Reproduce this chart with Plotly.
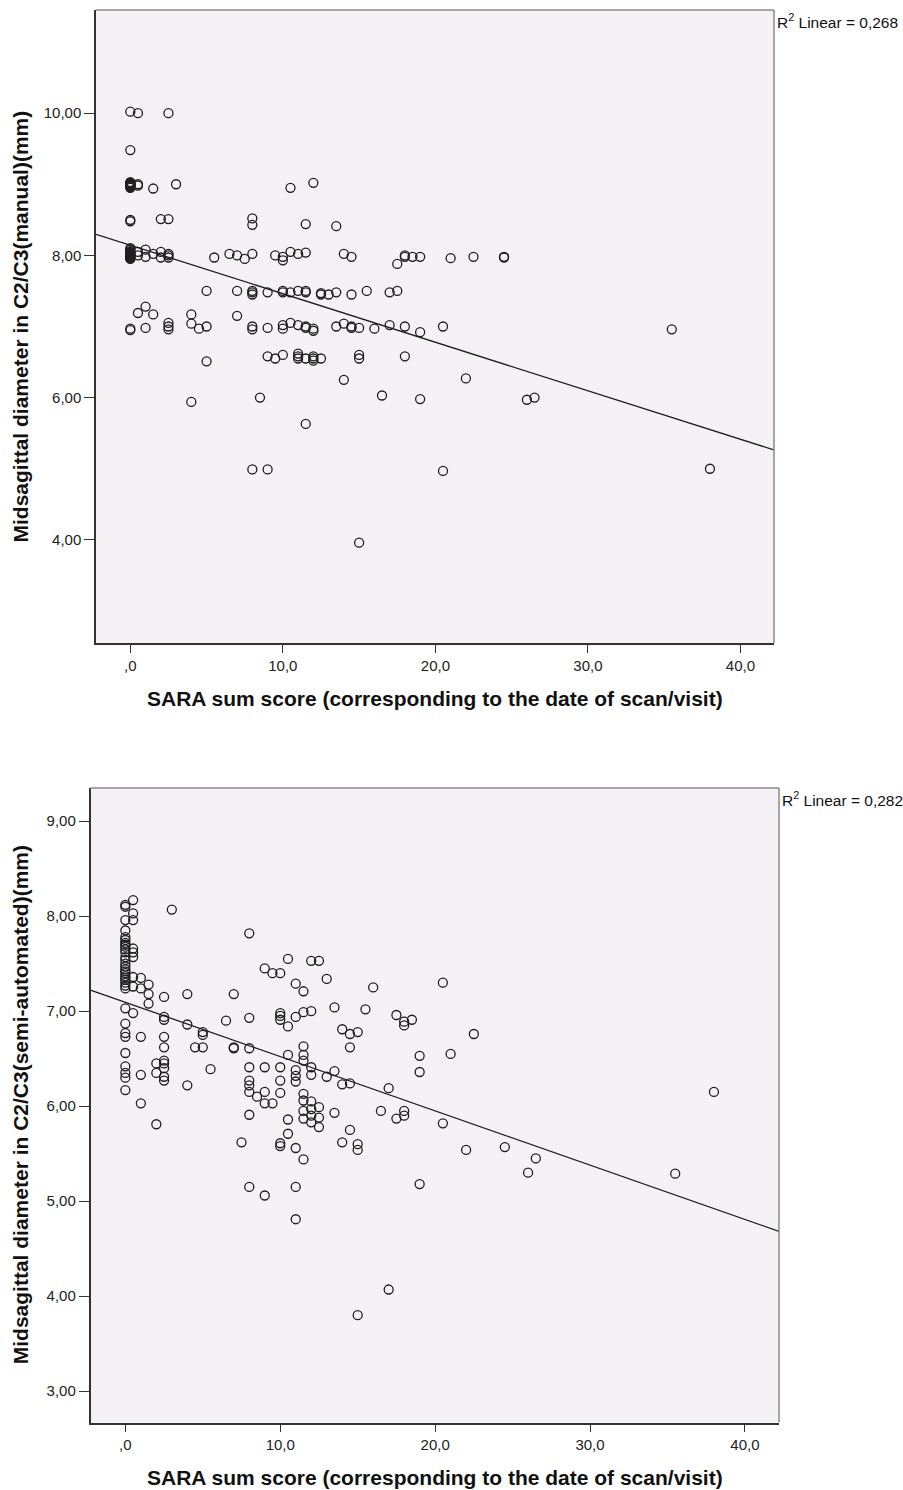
import numpy as np
import plotly.graph_objects as go

W, H = 903, 1490

# (SARA sum score, midsagittal diameter C2/C3, manual measurement in mm)
manual_points = [
    (0, 10.02), (0.5, 10.0), (2.5, 10.0),
    (0, 9.48),
    (0, 8.97), (0, 9.02), (0, 8.95), (0, 9.0), (0, 9.0), (0, 8.98), (0, 9.03), (0, 8.96), (0, 9.0),
    (0, 9.01), (0, 8.99), (0, 9.0), (0, 8.97),
    (0.5, 8.98), (0.5, 9.0), (1.5, 8.94), (3.0, 9.0), (10.5, 8.95), (12.0, 9.02),
    (0, 8.5), (0, 8.48), (2.0, 8.51), (2.5, 8.51), (8.0, 8.52), (8.0, 8.43), (11.5, 8.44), (13.5, 8.41),
    (0, 8.0), (0, 8.05), (0, 7.98), (0, 8.02), (0, 8.08), (0, 7.95), (0, 8.1), (0, 8.0), (0, 8.03),
    (0, 7.97), (0, 8.01), (0, 8.06), (0, 7.99), (0, 8.04), (0, 8.0), (0, 7.96),
    (0.5, 8.0), (0.5, 8.05),
    (1.0, 7.98), (1.0, 8.08), (1.5, 8.02), (2.0, 8.05), (2.0, 7.97), (2.5, 8.0), (2.5, 7.97), (2.5, 8.02),
    (5.5, 7.97), (6.5, 8.02), (7.0, 8.0), (7.5, 7.95), (8.0, 8.02), (9.5, 8.0), (10.0, 7.93), (10.0, 7.98),
    (10.5, 8.05), (11.0, 8.02), (11.5, 8.04), (14.0, 8.02), (14.5, 7.98), (17.5, 7.88), (18.0, 7.98),
    (18.0, 8.0), (18.5, 7.98), (19.0, 7.98), (21.0, 7.96), (22.5, 7.98), (24.5, 7.98), (24.5, 7.97),
    (5.0, 7.5), (7.0, 7.5), (8.0, 7.5), (8.0, 7.45), (8.0, 7.48), (9.0, 7.48), (10.0, 7.5), (10.0, 7.48),
    (10.5, 7.48), (11.0, 7.5), (11.5, 7.5), (11.5, 7.48), (12.5, 7.45), (12.5, 7.47), (13.0, 7.45),
    (13.5, 7.48), (14.5, 7.45), (15.5, 7.5), (17.0, 7.48), (17.5, 7.5),
    (7.0, 7.15), (0.5, 7.19), (1.0, 7.28), (1.5, 7.17), (4.0, 7.17), (4.0, 7.04),
    (0, 6.95), (0, 6.97), (1.0, 6.98), (2.5, 7.05), (2.5, 7.0), (2.5, 6.96), (4.5, 6.97), (5.0, 7.0),
    (8.0, 7.0), (8.0, 6.96), (9.0, 6.98), (10.0, 6.97), (10.0, 7.02), (10.5, 7.05), (11.0, 7.02),
    (11.5, 7.0), (11.5, 6.98), (12.0, 6.97), (12.0, 6.94), (13.5, 7.0), (14.0, 7.04), (14.5, 7.0),
    (14.5, 6.98), (15.0, 6.98), (16.0, 6.97), (17.0, 7.02), (18.0, 7.0), (19.0, 6.92), (20.5, 7.0),
    (5.0, 6.51), (9.0, 6.58), (9.5, 6.55), (10.0, 6.6), (11.0, 6.62), (11.0, 6.58), (11.0, 6.55),
    (11.5, 6.55), (12.0, 6.58), (12.0, 6.55), (12.0, 6.52), (12.5, 6.55), (15.0, 6.6), (15.0, 6.55),
    (18.0, 6.58),
    (14.0, 6.25), (22.0, 6.27), (16.5, 6.03), (19.0, 5.98), (26.0, 5.97), (26.5, 6.0), (11.5, 5.63),
    (4.0, 5.94), (8.5, 6.0), (8.0, 4.99), (9.0, 4.99), (20.5, 4.97), (15.0, 3.96), (35.5, 6.96),
    (38.0, 5.0),
]

# (SARA sum score, midsagittal diameter C2/C3, semi-automated measurement in mm)
semi_points = [
    (0, 8.12), (0, 8.10), (0, 7.96), (0, 7.85), (0, 7.75), (0, 7.72), (0, 7.68), (0, 7.65), (0, 7.54),
    (0, 7.5), (0, 7.47), (0, 7.44), (0, 7.40), (0, 7.37), (0, 7.35), (0, 7.30), (0, 7.27), (0, 7.24),
    (0, 7.78), (0, 7.62), (0, 7.57), (0, 7.42), (0, 7.33), (0, 7.70),
    (0, 7.03), (0, 6.87), (0, 6.77), (0, 6.73), (0, 6.56), (0, 6.42), (0, 6.35), (0, 6.30), (0, 6.17),
    (0.5, 8.17), (0.5, 8.03), (0.5, 7.96), (0.5, 7.66), (0.5, 7.62), (0.5, 7.57), (0.5, 7.36),
    (0.5, 7.26), (0.5, 6.98),
    (1.0, 7.35), (1.0, 7.24), (1.0, 6.73), (1.0, 6.33), (1.0, 6.03),
    (1.5, 7.28), (1.5, 7.18), (1.5, 7.08),
    (2.0, 6.45), (2.0, 6.35), (2.0, 5.81),
    (2.5, 7.15), (2.5, 6.94), (2.5, 6.91), (2.5, 6.73), (2.5, 6.62), (2.5, 6.48), (2.5, 6.45),
    (2.5, 6.40), (2.5, 6.31), (2.5, 6.27),
    (3.0, 8.07), (4.0, 7.18), (4.0, 6.86), (4.0, 6.22), (4.5, 6.62), (5.0, 6.78), (5.0, 6.75),
    (5.0, 6.62), (5.5, 6.39), (6.5, 6.9), (7.0, 7.18), (7.0, 6.62), (7.0, 6.61), (7.5, 5.62),
    (8.0, 7.82), (8.0, 6.93), (8.0, 6.61), (8.0, 6.41), (8.0, 6.27), (8.0, 6.22), (8.0, 6.15),
    (8.0, 5.91), (8.0, 5.15), (8.5, 6.1),
    (9.0, 7.45), (9.0, 6.41), (9.0, 6.15), (9.0, 6.03), (9.0, 5.06), (9.5, 7.40), (9.5, 6.03),
    (10.0, 7.40), (10.0, 6.98), (10.0, 6.95), (10.0, 6.91), (10.0, 6.41), (10.0, 6.27), (10.0, 6.14),
    (10.0, 5.61), (10.0, 5.58),
    (10.5, 7.55), (10.5, 6.84), (10.5, 6.54), (10.5, 5.86), (10.5, 5.71),
    (11.0, 7.29), (11.0, 6.94), (11.0, 6.38), (11.0, 6.32), (11.0, 6.26), (11.0, 5.56), (11.0, 5.15),
    (11.0, 4.81),
    (11.5, 7.21), (11.5, 6.99), (11.5, 6.63), (11.5, 6.54), (11.5, 6.48), (11.5, 6.13), (11.5, 6.06),
    (11.5, 5.95), (11.5, 5.87), (11.5, 5.44),
    (12.0, 7.53), (12.0, 7.0), (12.0, 6.41), (12.0, 6.33), (12.0, 6.05), (12.0, 5.97), (12.0, 5.9),
    (12.0, 5.83),
    (12.5, 7.53), (12.5, 5.99), (12.5, 5.88), (12.5, 5.78),
    (13.0, 7.34), (13.0, 6.31), (13.5, 7.04), (13.5, 6.37), (13.5, 5.93),
    (14.0, 6.81), (14.0, 6.23), (14.0, 5.62), (14.5, 6.76), (14.5, 6.62), (14.5, 6.24), (14.5, 5.75),
    (15.0, 6.78), (15.0, 5.6), (15.0, 5.54), (15.0, 3.80),
    (15.5, 7.02), (16.0, 7.25), (16.5, 5.95), (17.0, 6.19), (17.0, 4.07), (17.5, 6.96), (17.5, 5.87),
    (18.0, 6.89), (18.0, 6.85), (18.0, 5.95), (18.0, 5.9), (18.5, 6.91),
    (19.0, 6.53), (19.0, 6.36), (19.0, 5.18),
    (20.5, 7.30), (20.5, 5.82), (21.0, 6.55), (22.0, 5.54), (22.5, 6.76), (24.5, 5.57), (26.0, 5.30),
    (26.5, 5.45), (35.5, 5.29), (38.0, 6.15),
]

x_tick_vals = [0, 10, 20, 30, 40]
x_tick_text = [",0", "10,0", "20,0", "30,0", "40,0"]
manual_tick_vals = [4, 6, 8, 10]
manual_tick_text = ["4,00", "6,00", "8,00", "10,00"]
semi_tick_vals = [3, 4, 5, 6, 7, 8, 9]
semi_tick_text = ["3,00", "4,00", "5,00", "6,00", "7,00", "8,00", "9,00"]

x_title = "SARA sum score (corresponding to the date of scan/visit)"
y_titles = ["Midsagittal diameter in C2/C3(manual)(mm)",
            "Midsagittal diameter in C2/C3(semi-automated)(mm)"]
r2_text = ["0,268", "0,282"]

x_range = [-2.25, 42.2]
y_ranges = [[2.55, 11.45], [2.67, 9.35]]

FONT = "Liberation Sans, Arial, sans-serif"
INK = "#1e1e1e"
PANEL = "#F5F1F5"


def px(x):
    return x / W


def py(y):
    return 1 - y / H


# panel frames in pixels: (left, right, top, bottom)
frames = [(96, 774, 10, 643), (90.5, 779, 788, 1422.5)]

fig = go.Figure()
annotations = []
shapes = []

series = [manual_points, semi_points]
for i, pts in enumerate(series):
    xs = np.array([p[0] for p in pts], dtype=float)
    ys = np.array([p[1] for p in pts], dtype=float)
    slope, intercept = np.polyfit(xs, ys, 1)
    xa = "x" if i == 0 else "x2"
    ya = "y" if i == 0 else "y2"

    fig.add_trace(go.Scatter(
        x=xs, y=ys, mode="markers", xaxis=xa, yaxis=ya, showlegend=False,
        marker=dict(symbol="circle-open", size=9, color=INK, line=dict(width=1.3, color=INK)),
    ))
    fit_x = np.array(x_range)
    fig.add_trace(go.Scatter(
        x=fit_x, y=intercept + slope * fit_x, mode="lines", xaxis=xa, yaxis=ya,
        showlegend=False, line=dict(color=INK, width=1.3),
    ))

    l, r, t, b = frames[i]
    suffix = "" if i == 0 else "2"
    common = dict(
        showgrid=False, zeroline=False, showline=True, linecolor="#333333", linewidth=1.5,
        ticks="outside", tickwidth=1.3, tickcolor="#333333",
        tickfont=dict(family=FONT, size=15, color="#222222"),
    )
    fig.update_layout(**{
        "xaxis" + suffix: dict(
            domain=[px(l), px(r)], range=x_range, anchor=ya,
            tickvals=x_tick_vals, ticktext=x_tick_text, ticklen=8, **common),
        "yaxis" + suffix: dict(
            domain=[py(b), py(t)], range=y_ranges[i], anchor=xa,
            tickvals=[manual_tick_vals, semi_tick_vals][i],
            ticktext=[manual_tick_text, semi_tick_text][i], ticklen=10, **common),
    })

    # lighter top and right edges of the frame
    shapes.append(dict(type="line", xref=xa + " domain", yref=ya + " domain",
                       x0=0, x1=1, y0=1, y1=1, line=dict(color="#8a8a8a", width=1.5)))
    shapes.append(dict(type="line", xref=xa + " domain", yref=ya + " domain",
                       x0=1, x1=1, y0=0, y1=1, line=dict(color="#8a8a8a", width=1.5)))

    annotations.append(dict(
        xref="paper", yref="paper", x=px((l + r) / 2), y=py(b + 55),
        text="<b>" + x_title + "</b>", showarrow=False,
        font=dict(family=FONT, size=21, color="#111111"), xanchor="center", yanchor="middle"))
    annotations.append(dict(
        xref="paper", yref="paper", x=px(20), y=py((t + b) / 2),
        text="<b>" + y_titles[i] + "</b>", showarrow=False, textangle=-90,
        font=dict(family=FONT, size=21, color="#111111"), xanchor="center", yanchor="middle"))
    annotations.append(dict(
        xref="paper", yref="paper", x=px(r + 0.5), y=py(t - 1),
        text="R<sup>2</sup> Linear = " + r2_text[i], showarrow=False,
        font=dict(family=FONT, size=15.5, color="#111111"), xanchor="left", yanchor="top"))

fig.update_layout(
    width=W, height=H, margin=dict(l=0, r=0, t=0, b=0),
    paper_bgcolor="white", plot_bgcolor=PANEL,
    annotations=annotations, shapes=shapes,
)

fig.write_html("out.html")
